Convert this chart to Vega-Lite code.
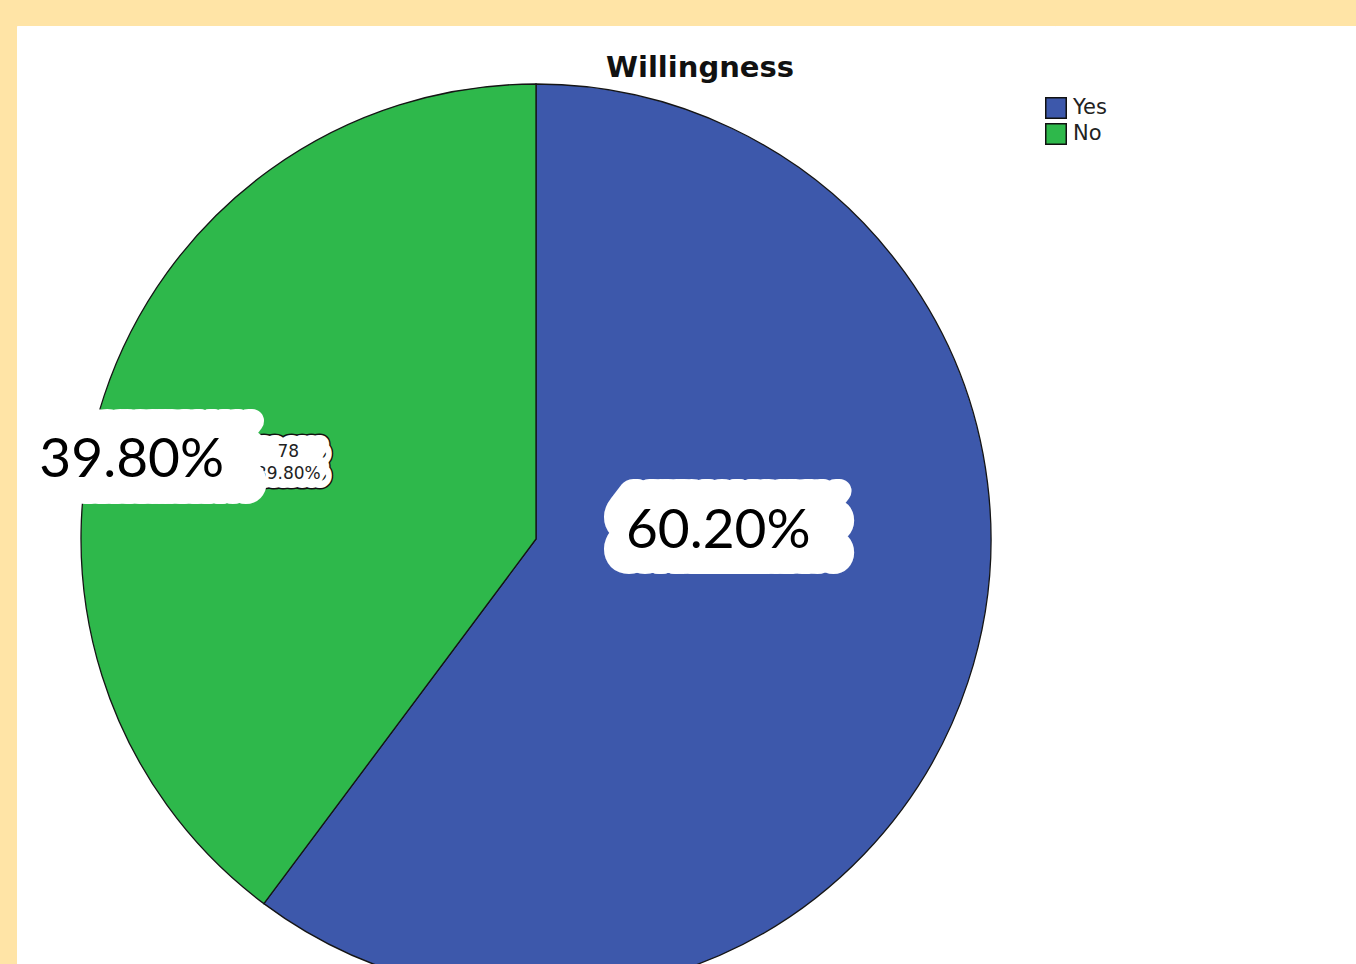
{
  "$schema": "https://vega.github.io/schema/vega-lite/v6.json",
  "background": "#FFE4A6",
  "padding": {"left": 16, "top": 25, "right": 0, "bottom": 0},
  "config": {"view": {"fill": "#FFFFFF", "stroke": "#FFFFFF", "strokeWidth": 1}},
  "data": {
    "values": [
      {"Willingness": "Yes", "Count": 118, "Percent": "60.20%"},
      {"Willingness": "No", "Count": 78, "Percent": "39.80%"}
    ]
  },
  "spacing": 0,
  "bounds": "flush",
  "hconcat": [
    {
      "width": 1038,
      "height": 1026,
      "view": {"fill": "#FFFFFF", "stroke": "#FFFFFF", "strokeWidth": 1},
      "title": {
        "text": "Willingness",
        "font": "DejaVu Sans",
        "fontSize": 29,
        "fontWeight": "bold",
        "color": "#111111",
        "anchor": "middle",
        "frame": "group",
        "offset": 0,
        "baseline": "alphabetic",
        "dx": 164,
        "dy": 80
      },
      "encoding": {
        "theta": {"field": "Count", "type": "quantitative", "stack": true},
        "order": {"field": "Willingness", "type": "nominal", "sort": "descending"},
        "detail": {"field": "Willingness", "type": "nominal"}
      },
      "layer": [
        {
          "mark": {"type": "arc", "outerRadius": 455, "stroke": "#151515", "strokeWidth": 1.3},
          "encoding": {
            "color": {
              "field": "Willingness",
              "type": "nominal",
              "scale": {"domain": ["Yes", "No"], "range": ["#3D58AB", "#2EB84B"]},
              "legend": {
                "title": null,
                "orient": "none",
                "legendX": 1028,
                "legendY": 71,
                "padding": 0,
                "symbolType": "square",
                "symbolSize": 420,
                "symbolStrokeColor": "#111111",
                "symbolStrokeWidth": 1.5,
                "symbolOpacity": 1,
                "labelFont": "DejaVu Sans",
                "labelFontSize": 21,
                "labelColor": "#222222",
                "labelOffset": 6,
                "rowPadding": -2
              }
            }
          }
        },
        {
          "mark": {"type": "text", "radius": 261, "dx": 3, "font": "DejaVu Sans", "fontSize": 17, "align": "center", "baseline": "alphabetic", "fill": "#111111", "stroke": "#111111", "strokeWidth": 21, "strokeJoin": "round"},
          "encoding": {"text": {"condition": {"test": "datum.Willingness === 'No'", "field": "Percent"}, "value": ""}}
        },
        {
          "mark": {"type": "text", "radius": 261, "dx": 3, "dy": 22, "font": "DejaVu Sans", "fontSize": 17, "align": "center", "baseline": "alphabetic", "fill": "#111111", "stroke": "#111111", "strokeWidth": 21, "strokeJoin": "round"},
          "encoding": {"text": {"condition": {"test": "datum.Willingness === 'No'", "field": "Percent"}, "value": ""}}
        },
        {
          "mark": {"type": "text", "radius": 261, "dx": 3, "font": "DejaVu Sans", "fontSize": 17, "align": "center", "baseline": "alphabetic", "fill": "white", "stroke": "white", "strokeWidth": 18, "strokeJoin": "round"},
          "encoding": {"text": {"condition": {"test": "datum.Willingness === 'No'", "field": "Percent"}, "value": ""}}
        },
        {
          "mark": {"type": "text", "radius": 261, "dx": 3, "dy": 22, "font": "DejaVu Sans", "fontSize": 17, "align": "center", "baseline": "alphabetic", "fill": "white", "stroke": "white", "strokeWidth": 18, "strokeJoin": "round"},
          "encoding": {"text": {"condition": {"test": "datum.Willingness === 'No'", "field": "Percent"}, "value": ""}}
        },
        {
          "mark": {"type": "text", "radius": 261, "font": "DejaVu Sans", "fontSize": 17, "align": "center", "baseline": "alphabetic", "color": "#222222"},
          "encoding": {"text": {"condition": {"test": "datum.Willingness === 'No'", "field": "Count", "type": "quantitative"}, "value": ""}}
        },
        {
          "mark": {"type": "text", "radius": 261, "dy": 22, "font": "DejaVu Sans", "fontSize": 17, "align": "center", "baseline": "alphabetic", "color": "#222222"},
          "encoding": {"text": {"condition": {"test": "datum.Willingness === 'No'", "field": "Percent"}, "value": ""}}
        },
        {
          "mark": {"type": "text", "radius": 426, "dx": -5, "dy": 55, "font": "Lato", "fontSize": 55, "align": "center", "baseline": "alphabetic", "fill": "white", "stroke": "white", "strokeWidth": 24, "strokeJoin": "round"},
          "encoding": {"text": {"condition": {"test": "datum.Willingness === 'No'", "field": "Percent"}, "value": ""}}
        },
        {
          "mark": {"type": "text", "radius": 426, "dx": 8, "dy": 55, "font": "Lato", "fontSize": 55, "align": "center", "baseline": "alphabetic", "fill": "white", "stroke": "white", "strokeWidth": 24, "strokeJoin": "round"},
          "encoding": {"text": {"condition": {"test": "datum.Willingness === 'No'", "field": "Percent"}, "value": ""}}
        },
        {
          "mark": {"type": "text", "radius": 426, "dx": 20, "dy": 55, "font": "Lato", "fontSize": 55, "align": "center", "baseline": "alphabetic", "fill": "white", "stroke": "white", "strokeWidth": 24, "strokeJoin": "round"},
          "encoding": {"text": {"condition": {"test": "datum.Willingness === 'No'", "field": "Percent"}, "value": ""}}
        },
        {
          "mark": {"type": "text", "radius": 426, "dx": 33, "dy": 55, "font": "Lato", "fontSize": 55, "align": "center", "baseline": "alphabetic", "fill": "white", "stroke": "white", "strokeWidth": 24, "strokeJoin": "round"},
          "encoding": {"text": {"condition": {"test": "datum.Willingness === 'No'", "field": "Percent"}, "value": ""}}
        },
        {
          "mark": {"type": "text", "radius": 426, "dx": -5, "dy": 87, "font": "Lato", "fontSize": 55, "align": "center", "baseline": "alphabetic", "fill": "white", "stroke": "white", "strokeWidth": 24, "strokeJoin": "round"},
          "encoding": {"text": {"condition": {"test": "datum.Willingness === 'No'", "field": "Percent"}, "value": ""}}
        },
        {
          "mark": {"type": "text", "radius": 426, "dx": 8, "dy": 87, "font": "Lato", "fontSize": 55, "align": "center", "baseline": "alphabetic", "fill": "white", "stroke": "white", "strokeWidth": 24, "strokeJoin": "round"},
          "encoding": {"text": {"condition": {"test": "datum.Willingness === 'No'", "field": "Percent"}, "value": ""}}
        },
        {
          "mark": {"type": "text", "radius": 426, "dx": 20, "dy": 87, "font": "Lato", "fontSize": 55, "align": "center", "baseline": "alphabetic", "fill": "white", "stroke": "white", "strokeWidth": 24, "strokeJoin": "round"},
          "encoding": {"text": {"condition": {"test": "datum.Willingness === 'No'", "field": "Percent"}, "value": ""}}
        },
        {
          "mark": {"type": "text", "radius": 426, "dx": 33, "dy": 87, "font": "Lato", "fontSize": 55, "align": "center", "baseline": "alphabetic", "fill": "white", "stroke": "white", "strokeWidth": 24, "strokeJoin": "round"},
          "encoding": {"text": {"condition": {"test": "datum.Willingness === 'No'", "field": "Percent"}, "value": ""}}
        },
        {
          "mark": {"type": "text", "radius": 426, "dy": 72, "font": "Lato", "fontSize": 55, "align": "center", "baseline": "alphabetic", "color": "#000000"},
          "encoding": {"text": {"condition": {"test": "datum.Willingness === 'No'", "field": "Percent"}, "value": ""}}
        },
        {
          "mark": {"type": "text", "radius": 192, "dx": -13, "dy": -70, "font": "Lato", "fontSize": 55, "align": "center", "baseline": "alphabetic", "fill": "white", "stroke": "white", "strokeWidth": 24, "strokeJoin": "round"},
          "encoding": {"text": {"condition": {"test": "datum.Willingness === 'Yes'", "field": "Percent"}, "value": ""}}
        },
        {
          "mark": {"type": "text", "radius": 192, "dx": 3, "dy": -70, "font": "Lato", "fontSize": 55, "align": "center", "baseline": "alphabetic", "fill": "white", "stroke": "white", "strokeWidth": 24, "strokeJoin": "round"},
          "encoding": {"text": {"condition": {"test": "datum.Willingness === 'Yes'", "field": "Percent"}, "value": ""}}
        },
        {
          "mark": {"type": "text", "radius": 192, "dx": 18, "dy": -70, "font": "Lato", "fontSize": 55, "align": "center", "baseline": "alphabetic", "fill": "white", "stroke": "white", "strokeWidth": 24, "strokeJoin": "round"},
          "encoding": {"text": {"condition": {"test": "datum.Willingness === 'Yes'", "field": "Percent"}, "value": ""}}
        },
        {
          "mark": {"type": "text", "radius": 192, "dx": 34, "dy": -70, "font": "Lato", "fontSize": 55, "align": "center", "baseline": "alphabetic", "fill": "white", "stroke": "white", "strokeWidth": 24, "strokeJoin": "round"},
          "encoding": {"text": {"condition": {"test": "datum.Willingness === 'Yes'", "field": "Percent"}, "value": ""}}
        },
        {
          "mark": {"type": "text", "radius": 192, "dx": -13, "dy": -38, "font": "Lato", "fontSize": 55, "align": "center", "baseline": "alphabetic", "fill": "white", "stroke": "white", "strokeWidth": 24, "strokeJoin": "round"},
          "encoding": {"text": {"condition": {"test": "datum.Willingness === 'Yes'", "field": "Percent"}, "value": ""}}
        },
        {
          "mark": {"type": "text", "radius": 192, "dx": 3, "dy": -38, "font": "Lato", "fontSize": 55, "align": "center", "baseline": "alphabetic", "fill": "white", "stroke": "white", "strokeWidth": 24, "strokeJoin": "round"},
          "encoding": {"text": {"condition": {"test": "datum.Willingness === 'Yes'", "field": "Percent"}, "value": ""}}
        },
        {
          "mark": {"type": "text", "radius": 192, "dx": 18, "dy": -38, "font": "Lato", "fontSize": 55, "align": "center", "baseline": "alphabetic", "fill": "white", "stroke": "white", "strokeWidth": 24, "strokeJoin": "round"},
          "encoding": {"text": {"condition": {"test": "datum.Willingness === 'Yes'", "field": "Percent"}, "value": ""}}
        },
        {
          "mark": {"type": "text", "radius": 192, "dx": 34, "dy": -38, "font": "Lato", "fontSize": 55, "align": "center", "baseline": "alphabetic", "fill": "white", "stroke": "white", "strokeWidth": 24, "strokeJoin": "round"},
          "encoding": {"text": {"condition": {"test": "datum.Willingness === 'Yes'", "field": "Percent"}, "value": ""}}
        },
        {
          "mark": {"type": "text", "radius": 192, "dy": -52, "font": "Lato", "fontSize": 55, "align": "center", "baseline": "alphabetic", "color": "#000000"},
          "encoding": {"text": {"condition": {"test": "datum.Willingness === 'Yes'", "field": "Percent"}, "value": ""}}
        }
      ]
    },
    {
      "width": 302,
      "height": 1026,
      "view": {"fill": "#FFFFFF", "stroke": "#FFFFFF", "strokeWidth": 1},
      "data": {"values": []},
      "mark": "point"
    }
  ]
}
